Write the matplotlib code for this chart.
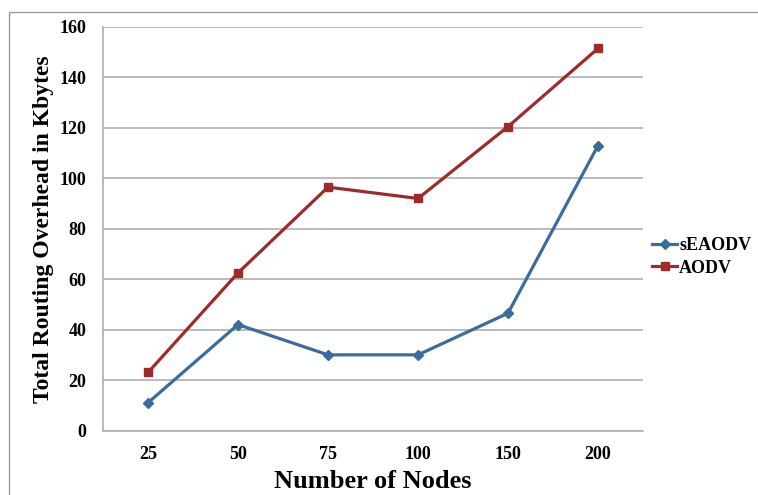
import matplotlib
matplotlib.use("Agg")
import matplotlib.pyplot as plt
from matplotlib.patches import Rectangle

# routing overhead per network size
nodes = ["25", "50", "75", "100", "150", "200"]
seaodv = [11, 42, 30, 30, 46.5, 113]
aodv = [23, 62.5, 96.5, 92, 120.5, 151.5]
y_ticks = [0, 20, 40, 60, 80, 100, 120, 140, 160]

plt.rcParams["font.family"] = ["Liberation Serif", "DejaVu Serif"]
plt.rcParams["font.weight"] = "bold"

fig = plt.figure(figsize=(7.58, 4.95), dpi=100)

# thin grey frame around the whole chart area
fig.patches.append(Rectangle((9 / 758, -0.05), 1.0, (495 - 12) / 495 + 0.05,
                             transform=fig.transFigure, fill=False,
                             edgecolor="#9a9a9a", linewidth=1.0))

ax = fig.add_axes([103 / 758, (495 - 430.5) / 495, 540 / 758, 403.5 / 495])

x = list(range(len(nodes)))
ax.plot(x, seaodv, color="#3b6c9c", linewidth=2.3, marker="D",
        markersize=5, label="sEAODV")
ax.plot(x, aodv, color="#9e2b2b", linewidth=2.3, marker="s",
        markersize=6, label="AODV")

ax.set_xlim(-0.5, len(nodes) - 0.5)
ax.set_ylim(0, 160)
ax.set_xticks(x)
ax.set_xticklabels(nodes)
ax.set_yticks(y_ticks)
ax.yaxis.grid(True, color="#a8a8a8", linewidth=1.1)
ax.set_axisbelow(True)

for side in ["top", "right"]:
    ax.spines[side].set_visible(False)
for side in ["left", "bottom"]:
    ax.spines[side].set_color("#a8a8a8")
    ax.spines[side].set_linewidth(1.1)

ax.tick_params(length=0, labelsize=13)
ax.tick_params(axis="y", pad=12)
ax.tick_params(axis="x", pad=11)

ax.set_xlabel("Number of Nodes", fontsize=19, fontweight="bold", labelpad=5.5)
ax.set_ylabel("Total Routing Overhead in Kbytes", fontsize=17,
              fontweight="bold", labelpad=4)

ax.legend(loc="center left", bbox_to_anchor=(652 / 758, 1 - 257 / 495),
          bbox_transform=fig.transFigure, frameon=False, fontsize=13,
          handlelength=1.4, handletextpad=0.1, labelspacing=0.3,
          borderaxespad=0, borderpad=0)

fig.savefig("out.png", dpi=100)
